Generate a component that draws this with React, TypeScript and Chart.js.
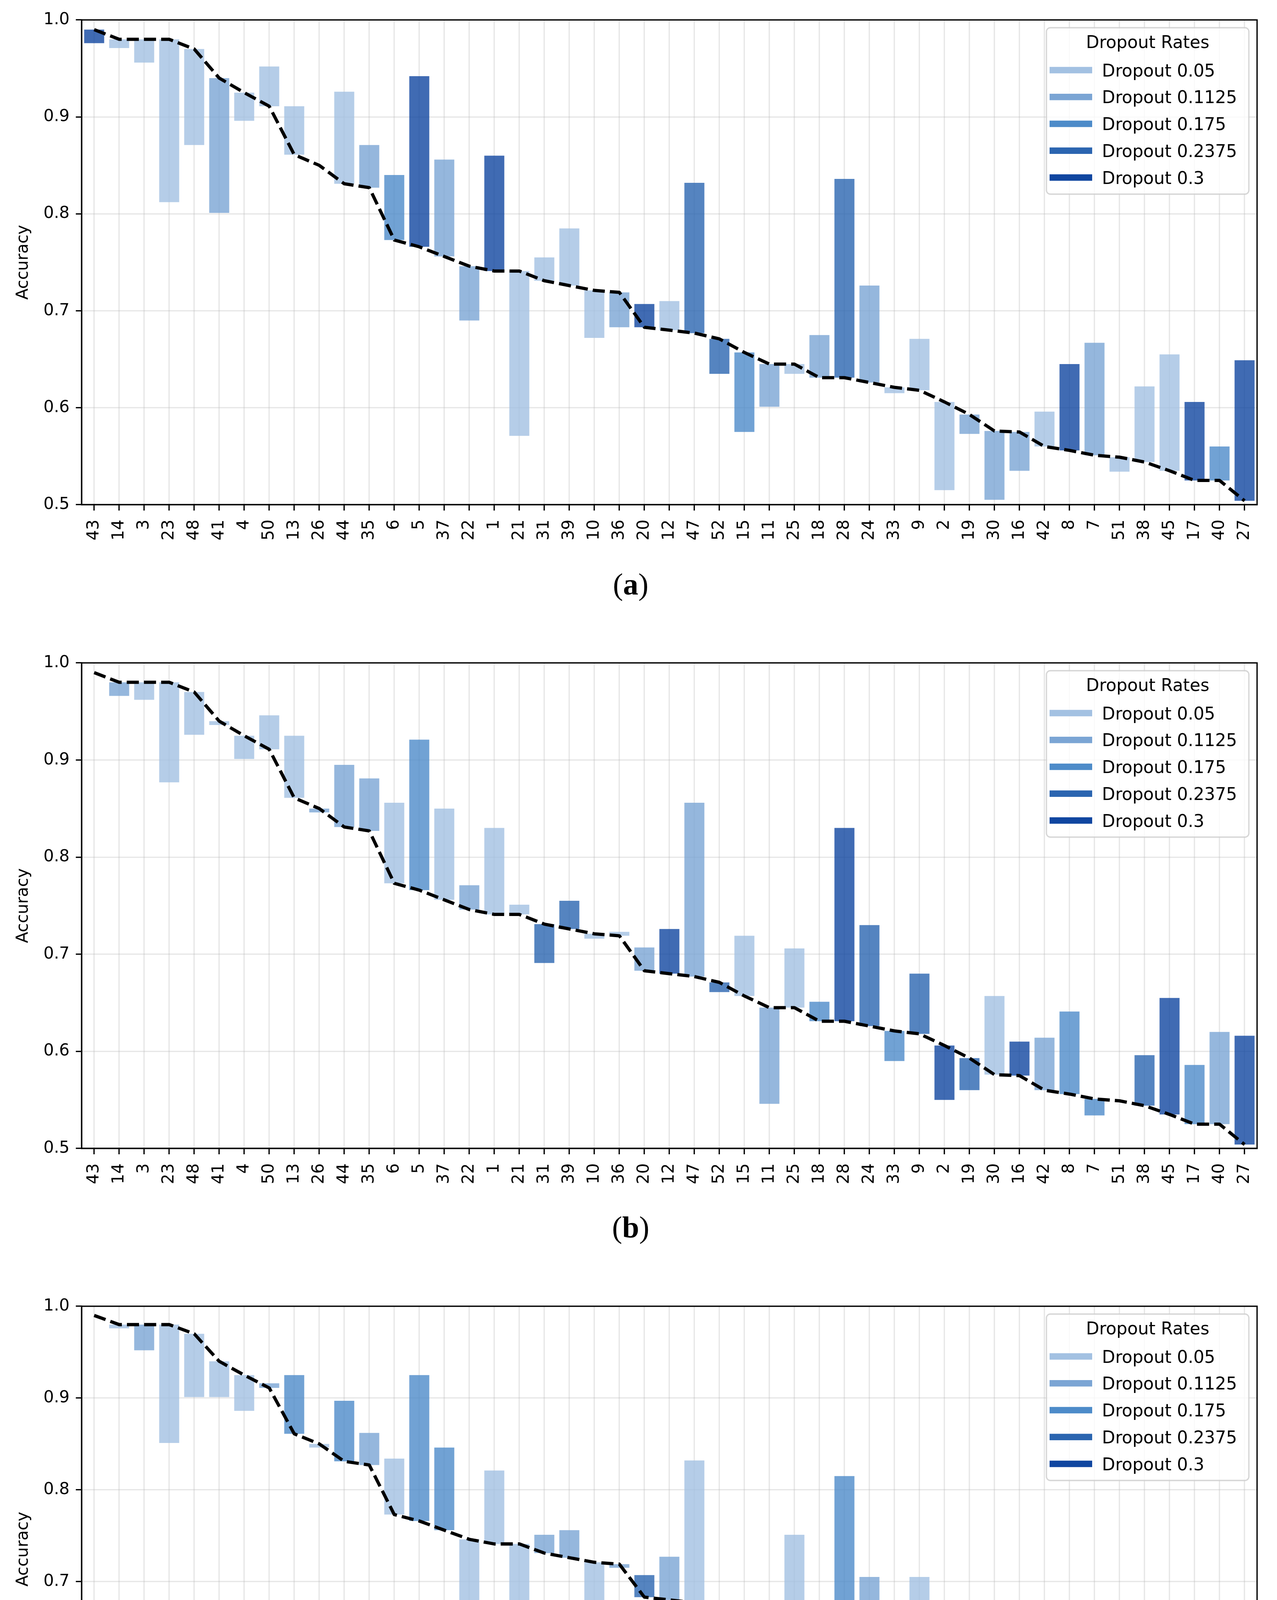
import React, { useEffect, useRef } from 'react';
import { Chart, registerables } from 'chart.js';

Chart.register(...registerables);

// ---------------- data ----------------
const categories = ['43','14','3','23','48','41','4','50','13','26','44','35','6','5','37','22','1','21','31','39','10','36','20','12','47','52','15','11','25','18','28','24','33','9','2','19','30','16','42','8','7','51','38','45','17','40','27'];

const baseline = [0.990,0.980,0.980,0.980,0.970,0.940,0.925,0.911,0.861,0.850,0.831,0.827,0.773,0.766,0.756,0.746,0.741,0.741,0.731,0.726,0.721,0.719,0.683,0.680,0.677,0.671,0.657,0.645,0.645,0.631,0.631,0.626,0.621,0.618,0.606,0.593,0.576,0.575,0.560,0.556,0.551,0.549,0.544,0.535,0.525,0.525,0.504];

const endsA = [0.976,0.971,0.956,0.812,0.871,0.801,0.896,0.952,0.911,null,0.926,0.871,0.840,0.942,0.856,0.690,0.860,0.571,0.755,0.785,0.672,0.683,0.707,0.710,0.832,0.635,0.575,0.601,0.635,0.675,0.836,0.726,0.615,0.671,0.515,0.573,0.505,0.535,0.596,0.645,0.667,0.534,0.622,0.655,0.606,0.560,0.649];
const dropsA = [4,0,0,0,0,1,0,0,0,0,0,1,2,4,1,1,4,0,0,0,0,1,4,0,3,3,2,1,0,1,3,1,0,0,0,1,1,1,0,4,1,0,0,0,4,2,4];

const endsB = [null,0.966,0.962,0.877,0.926,0.936,0.901,0.946,0.925,0.846,0.895,0.881,0.856,0.921,0.850,0.771,0.830,0.751,0.691,0.755,0.716,0.723,0.707,0.726,0.856,0.661,0.719,0.546,0.706,0.651,0.830,0.730,0.590,0.680,0.550,0.560,0.657,0.610,0.614,0.641,0.534,null,0.596,0.655,0.586,0.620,0.616];
const dropsB = [0,1,0,0,0,0,0,0,0,1,1,1,0,2,0,1,0,0,3,3,0,0,1,4,1,3,0,1,0,2,4,3,2,3,4,3,0,4,1,2,2,0,3,4,2,1,4];

const endsC = [null,0.976,0.952,0.851,0.901,0.901,0.886,0.916,0.925,0.846,0.897,0.862,0.834,0.925,0.846,0.677,0.821,0.642,0.751,0.756,0.646,0.715,0.707,0.727,0.832,0.651,0.622,0.571,0.751,0.656,0.815,0.705,0.646,0.705,0.481,0.553,0.562,null,0.646,0.617,0.589,0.539,0.678,0.677,0.542,0.601,0.558];
const dropsC = [0,0,1,0,0,0,0,1,2,0,2,1,0,2,2,0,0,0,1,1,0,1,3,1,0,2,0,1,0,1,2,1,1,0,4,1,4,0,0,1,3,3,2,0,0,3,4];

const yTicks = [0.5, 0.6, 0.7, 0.8, 0.9, 1.0];
const yMins = [0.5, 0.5, 0.4707];
const legendTitle = 'Dropout Rates';
const legendLabels = ['Dropout 0.05', 'Dropout 0.1125', 'Dropout 0.175', 'Dropout 0.2375', 'Dropout 0.3'];
const captions = ['a', 'b', 'c'];

// ---------------- styling ----------------
const dropColors = ['#a3c1e2', '#7ba5d4', '#4d8bc9', '#2b65b0', '#1046a0'];
const FONT = "'DejaVu Sans'";
const PAGE_W = 3268;
const PAGE_H = 4866;
const CANVAS_H = 1440;
const X_AXIS_H = 140;
const Y_AXIS_W = 209;
const chartTops = [0, 1646, 3293];
const areaBottoms = [1292, 2940, 4587.5];
const captionBaselines = [1522, 3168, 4818];

function rgba(hex: string, a: number) {
  const n = parseInt(hex.slice(1), 16);
  return `rgba(${(n >> 16) & 255},${(n >> 8) & 255},${n & 255},${a})`;
}

const framePlugin = {
  id: 'frame',
  afterDatasetsDraw(chart: any) {
    const { ctx, chartArea } = chart;
    ctx.save();
    ctx.strokeStyle = '#000';
    ctx.lineWidth = 3.33;
    ctx.strokeRect(chartArea.left, chartArea.top, chartArea.right - chartArea.left, chartArea.bottom - chartArea.top);
    ctx.restore();
  },
};

const legendPlugin = {
  id: 'dropLegend',
  afterDraw(chart: any) {
    const { ctx, chartArea } = chart;
    const w = 518;
    const h = 426;
    const x0 = chartArea.right - 21 - w;
    const y0 = chartArea.top + 20;
    ctx.save();
    ctx.beginPath();
    if ((ctx as any).roundRect) (ctx as any).roundRect(x0, y0, w, h, 10);
    else ctx.rect(x0, y0, w, h);
    ctx.fillStyle = 'rgba(255,255,255,0.8)';
    ctx.fill();
    ctx.lineWidth = 3.3;
    ctx.strokeStyle = 'rgba(204,204,204,0.8)';
    ctx.stroke();
    ctx.fillStyle = '#000';
    ctx.font = `44px ${FONT}`;
    ctx.textAlign = 'center';
    ctx.textBaseline = 'alphabetic';
    ctx.fillText(legendTitle, x0 + w / 2, y0 + 52);
    ctx.textAlign = 'left';
    legendLabels.forEach((lab, i) => {
      const cy = y0 + 108.5 + i * 68.75;
      ctx.strokeStyle = dropColors[i];
      ctx.lineWidth = 16.7;
      ctx.lineCap = 'butt';
      ctx.beginPath();
      ctx.moveTo(x0 + 8, cy);
      ctx.lineTo(x0 + 117, cy);
      ctx.stroke();
      ctx.fillStyle = '#000';
      ctx.fillText(lab, x0 + 142, cy + 16);
    });
    ctx.restore();
  },
};

function ChartPanel({ index, ends, drops }: { index: number; ends: (number | null)[]; drops: number[] }) {
  const ref = useRef<HTMLCanvasElement>(null);
  const top = chartTops[index];
  const padBottom = CANVAS_H - (areaBottoms[index] - top) - X_AXIS_H;

  useEffect(() => {
    if (!ref.current) return;
    const barData = categories.map((_, i) => (ends[i] == null ? null : [baseline[i], ends[i] as number]));
    const barColors = categories.map((_, i) => rgba(dropColors[drops[i]], 0.8));
    const tickFont = { family: FONT, size: 42 };
    const chart = new Chart(ref.current, {
      type: 'bar',
      data: {
        labels: categories,
        datasets: [
          {
            type: 'line',
            data: baseline,
            borderColor: '#000',
            borderWidth: 8.3,
            borderDash: [31, 13],
            borderJoinStyle: 'round',
            pointRadius: 0,
            tension: 0,
            fill: false,
            order: 0,
          } as any,
          {
            type: 'bar',
            data: barData as any,
            backgroundColor: barColors,
            borderWidth: 0,
            barPercentage: 0.8,
            categoryPercentage: 1.0,
            order: 1,
          } as any,
        ],
      },
      options: {
        animation: false,
        responsive: false,
        maintainAspectRatio: false,
        devicePixelRatio: 1,
        events: [],
        layout: { padding: { left: 0, top: 51, right: PAGE_W - 3217, bottom: padBottom } },
        plugins: { legend: { display: false }, tooltip: { enabled: false }, title: { display: false } },
        scales: {
          x: {
            type: 'category',
            offset: true,
            afterFit: (s: any) => { s.height = X_AXIS_H; },
            grid: {
              display: true,
              offset: false,
              color: 'rgba(176,176,176,0.3)',
              lineWidth: 3.3,
              drawTicks: true,
              tickLength: 15,
              tickColor: '#000',
              tickWidth: 3.3,
            },
            border: { display: true, color: '#000', width: 3.33 },
            ticks: {
              autoSkip: false,
              minRotation: 90,
              maxRotation: 90,
              padding: 23,
              color: '#000',
              font: tickFont,
            },
          },
          y: {
            type: 'linear',
            min: yMins[index],
            max: 1.0,
            afterFit: (s: any) => { s.width = Y_AXIS_W; },
            afterBuildTicks: (s: any) => { s.ticks = yTicks.map((v) => ({ value: v })); },
            grid: {
              color: 'rgba(176,176,176,0.3)',
              lineWidth: 3.3,
              drawTicks: true,
              tickLength: 15,
              tickColor: '#000',
              tickWidth: 3.3,
            },
            border: { display: true, color: '#000', width: 3.33 },
            ticks: {
              padding: 16,
              color: '#000',
              font: tickFont,
              callback: (v: any) => Number(v).toFixed(1),
            },
            title: {
              display: true,
              text: 'Accuracy',
              color: '#000',
              font: { family: FONT, size: 42, lineHeight: 1 },
              padding: { top: 39, bottom: 0 },
            },
          },
        },
      } as any,
      plugins: [framePlugin, legendPlugin],
    });
    return () => chart.destroy();
  }, []);

  return (
    <>
      <canvas
        ref={ref}
        width={PAGE_W}
        height={CANVAS_H}
        style={{ position: 'absolute', left: 0, top, width: PAGE_W, height: CANVAS_H }}
      />
      <div
        style={{
          position: 'absolute',
          left: 1614 - 200,
          width: 400,
          top: captionBaselines[index] - 65,
          fontFamily: "'Liberation Serif', 'Times New Roman', serif",
          fontSize: 78,
          lineHeight: '78px',
          textAlign: 'center',
          color: '#000',
        }}
      >
        (<b>{captions[index]}</b>)
      </div>
    </>
  );
}

export default function App() {
  return (
    <div style={{ position: 'absolute', left: 0, top: 0, width: PAGE_W, height: PAGE_H, background: '#fff', overflow: 'hidden' }}>
      <ChartPanel index={0} ends={endsA} drops={dropsA} />
      <ChartPanel index={1} ends={endsB} drops={dropsB} />
      <ChartPanel index={2} ends={endsC} drops={dropsC} />
    </div>
  );
}
